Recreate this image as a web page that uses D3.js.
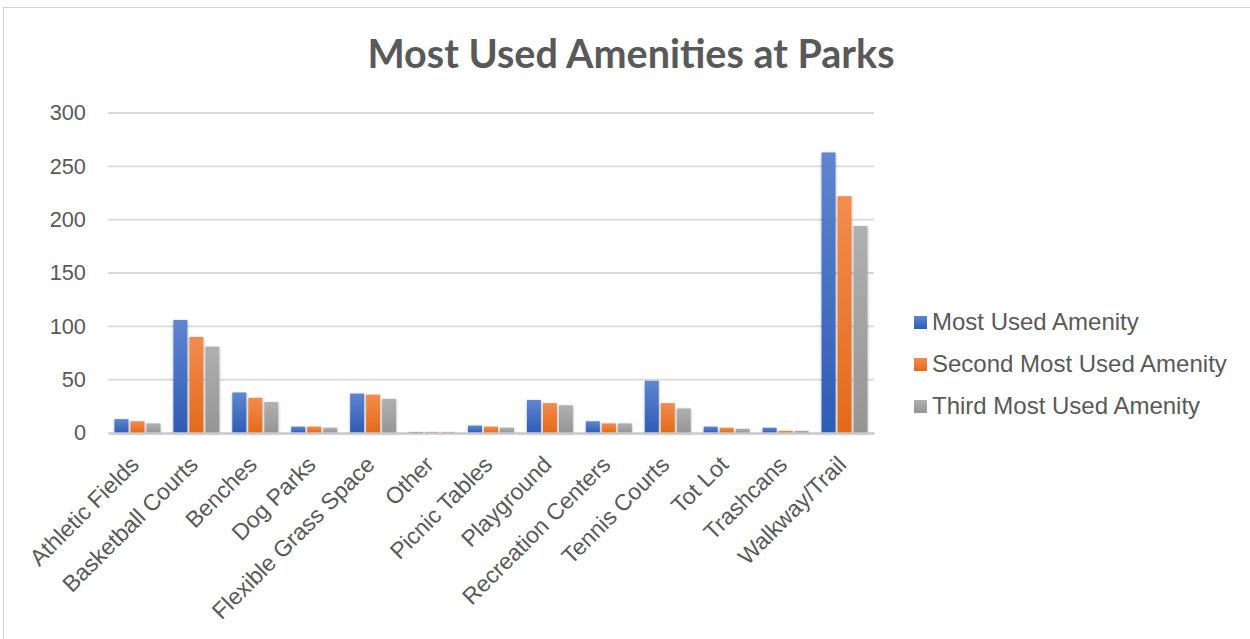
<!DOCTYPE html>
<html>
<head>
<meta charset="utf-8">
<script src="https://cdn.jsdelivr.net/npm/d3@7"></script>
<style>
  body { margin: 0; background: #fff; }
  text { fill: #595959; }
</style>
</head>
<body>
<div id="chart"></div>
<script>
const amenities = ["Athletic Fields", "Basketball Courts", "Benches", "Dog Parks", "Flexible Grass Space",
  "Other", "Picnic Tables", "Playground", "Recreation Centers", "Tennis Courts", "Tot Lot", "Trashcans", "Walkway/Trail"]
const mostUsed   = [13, 106, 38, 6, 37, 1, 7, 31, 11, 49, 6, 5, 263]
const secondUsed = [11,  90, 33, 6, 36, 1, 6, 28,  9, 28, 5, 2, 222]
const thirdUsed  = [ 9,  81, 29, 5, 32, 1, 5, 26,  9, 23, 4, 2, 194]
const seriesNames = ["Most Used Amenity", "Second Most Used Amenity", "Third Most Used Amenity"]
const yTicks = [0, 50, 100, 150, 200, 250, 300]

const colors = [["#5f86cf", "#2e5cb5"], ["#f28c4e", "#e36a1a"], ["#b0b0b0", "#959595"]]
const series = [mostUsed, secondUsed, thirdUsed]
const sans = "'Liberation Sans', Arial, sans-serif"

const width = 1250, height = 639
const svg = d3.select("#chart").append("svg")
  .attr("width", width)
  .attr("height", height)

// chart border
svg.append("rect")
  .attr("x", 3.5).attr("y", 7.5)
  .attr("width", 1260).attr("height", 660)
  .attr("fill", "none")
  .attr("stroke", "#d0d0d0")

const defs = svg.append("defs")
colors.forEach((c, i) => {
  const g = defs.append("linearGradient").attr("id", "grad" + i)
    .attr("x1", 0).attr("y1", 0).attr("x2", 0).attr("y2", 1)
  g.append("stop").attr("offset", "0%").attr("stop-color", c[0])
  g.append("stop").attr("offset", "100%").attr("stop-color", c[1])
})
const shadow = defs.append("filter").attr("id", "shadow")
  .attr("x", "-30%").attr("y", "-10%").attr("width", "160%").attr("height", "130%")
shadow.append("feDropShadow").attr("dx", 0).attr("dy", 1).attr("stdDeviation", 1.6)
  .attr("flood-color", "#000").attr("flood-opacity", 0.3)

const x = d3.scaleBand()
  .domain(amenities)
  .range([108, 874])

const y = d3.scaleLinear()
  .domain([0, 300])
  .range([433, 113])

const xInner = d3.scaleBand()
  .domain(d3.range(3))
  .range([0, 48])

// gridlines
svg.append("g")
  .selectAll("line")
  .data(yTicks.filter(d => d > 0))
  .enter().append("line")
  .attr("x1", 108).attr("x2", 874)
  .attr("y1", d => y(d)).attr("y2", d => y(d))
  .attr("stroke", "#d9d9d9")
  .attr("stroke-width", 1.8)

// y axis labels
const yAxis = d3.axisLeft(y).tickValues(yTicks).tickSize(0).tickPadding(0)
const yg = svg.append("g")
  .attr("transform", "translate(86,0)")
  .call(yAxis)
yg.select(".domain").remove()
yg.selectAll("text")
  .attr("font-size", 21.8)
  .attr("font-family", sans)
  .attr("fill", "#595959")

// bars
series.forEach((vals, si) => {
  svg.append("g")
    .selectAll("rect")
    .data(vals)
    .enter().append("rect")
    .attr("x", (d, i) => x(amenities[i]) + (x.bandwidth() - 48) / 2 + xInner(si) + 1)
    .attr("y", d => y(d))
    .attr("width", 14)
    .attr("height", d => y(0) - y(d))
    .attr("fill", "url(#grad" + si + ")")
    .attr("filter", "url(#shadow)")
})

// x axis
const xAxis = d3.axisBottom(x).tickSize(0).tickPadding(0)
const xg = svg.append("g")
  .attr("transform", "translate(0,433)")
  .call(xAxis)
xg.select(".domain")
  .attr("stroke", "#c8c8c8")
  .attr("stroke-width", 2.5)
xg.selectAll("text")
  .attr("font-size", 23)
  .attr("font-family", sans)
  .attr("fill", "#595959")
  .attr("text-anchor", "end")
  .attr("y", 0)
  .attr("dy", 0)
  .attr("transform", "translate(3,33) rotate(-45)")

// title
svg.append("text")
  .attr("x", 631)
  .attr("y", 68)
  .attr("text-anchor", "middle")
  .attr("font-family", "Lato, sans-serif")
  .attr("font-weight", "bold")
  .attr("font-size", 39.5)
  .attr("fill", "#595959")
  .text("Most Used Amenities at Parks")

// legend
const legend = svg.append("g")
  .selectAll("g")
  .data(seriesNames)
  .enter().append("g")
  .attr("transform", (d, i) => `translate(914,${322 + i * 42})`)
legend.append("rect")
  .attr("x", 0).attr("y", -6)
  .attr("width", 13).attr("height", 13)
  .attr("fill", (d, i) => "url(#grad" + i + ")")
legend.append("text")
  .attr("x", 18)
  .attr("y", 8)
  .attr("font-family", sans)
  .attr("font-size", 24)
  .text(d => d)
</script>
</body>
</html>
